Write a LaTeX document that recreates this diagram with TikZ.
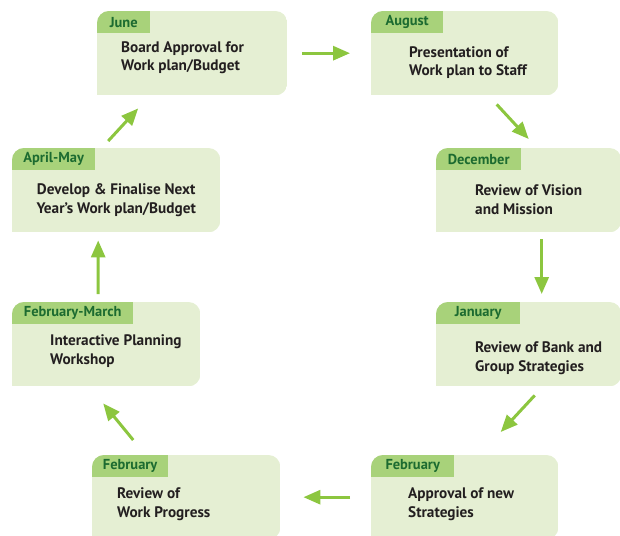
\documentclass[tikz,border=0pt]{standalone}
\usepackage{fontspec}
\setmainfont{PT Sans}
\usetikzlibrary{arrows.meta}
\definecolor{stagefill}{HTML}{E5EFD3}
\definecolor{tabfill}{HTML}{A8D27A}
\definecolor{monthgreen}{HTML}{1C6B30}
\definecolor{arrowgreen}{HTML}{8CC63F}
\definecolor{bodytext}{HTML}{231F20}

\tikzset{
  stage/.style={minimum width=#1,minimum height=84bp,inner sep=0pt,anchor=north west},
  monthtab/.style={fill=tabfill,text=monthgreen,anchor=north west,minimum height=22bp,
    inner sep=0pt,font=\fontsize{14.5}{16}\selectfont\bfseries},
  stagetext/.style={text=bodytext,anchor=base west,align=left,inner sep=0pt,
    font=\fontsize{15.3}{19}\selectfont\bfseries},
  flow/.style={arrowgreen,line width=3bp,-{Triangle[length=17bp,width=14bp]}}
}

\begin{document}
\begin{tikzpicture}[x=1bp,y=-1bp]
  \useasboundingbox (0,0) rectangle (620,536);

  % stage boxes, top-left corners
  \node[stage=190bp] (june)     at (97,11)   {};
  \node[stage=187bp] (august)   at (371,11)  {};
  \node[stage=208bp] (aprmay)   at (12,148)  {};
  \node[stage=185bp] (december) at (436,148) {};
  \node[stage=188bp] (febmar)   at (12,302)  {};
  \node[stage=185bp] (january)  at (436,302) {};
  \node[stage=188bp] (febleft)  at (92,455)  {};
  \node[stage=187bp] (febright) at (371,455) {};

  % box backgrounds and month tabs
  \foreach \n/\tw/\month in {
    june/53/June,
    august/72/August,
    aprmay/83/April-May,
    december/85/December,
    febmar/121/February-March,
    january/84/January,
    febleft/76/February,
    febright/83/February
  } {
    \begin{scope}
      \clip[rounded corners=12bp] (\n.south west) rectangle (\n.north east);
      \fill[stagefill] (\n.south west) rectangle (\n.north east);
      \node[monthtab,minimum width=\tw bp] (\n-tab) at (\n.north west) {\month};
    \end{scope}
    \fill[stagefill] (\n.south west) rectangle ++(12bp,12bp);
  }

  % stage texts, placed by the baseline of their last line
  \node[stagetext] (june-text) at ([xshift=24bp,yshift=-60bp]june.north west)
    {Board Approval for\\Work plan/Budget};
  \node[stagetext] (august-text) at ([xshift=38bp,yshift=-65bp]august.north west)
    {Presentation of\\Work plan to Staff};
  \node[stagetext,anchor=base,align=center] (aprmay-text) at ([yshift=-65bp]aprmay.north)
    {Develop \& Finalise Next\\Year’s Work plan/Budget};
  \node[stagetext] (december-text) at ([xshift=39bp,yshift=-66bp]december.north west)
    {Review of Vision\\and Mission};
  \node[stagetext] (febmar-text) at ([xshift=38bp,yshift=-62bp]febmar.north west)
    {Interactive Planning\\Workshop};
  \node[stagetext] (january-text) at ([xshift=39bp,yshift=-69bp]january.north west)
    {Review of Bank and\\Group Strategies};
  \node[stagetext] (febleft-text) at ([xshift=25bp,yshift=-62bp]febleft.north west)
    {Review of\\Work Progress};
  \node[stagetext] (febright-text) at ([xshift=37bp,yshift=-62bp]febright.north west)
    {Approval of new\\Strategies};

  % cycle arrows
  \draw[flow,shorten <=15bp,shorten >=21bp] (june.east) -- (august.west);
  \draw[flow] ([xshift=32bp,yshift=-9bp]august.south) -- ([yshift=9bp]december.north);
  \draw[flow] ([xshift=13bp,yshift=-7bp]december.south) -- ([xshift=13bp,yshift=8bp]january.north);
  \draw[flow] ([xshift=6bp,yshift=-9bp]january.south) -- ([xshift=36bp,yshift=23bp]febright.north);
  \draw[flow,shorten <=21bp,shorten >=23bp] (febright.west) -- (febleft.east);
  \draw[flow] ([xshift=-53bp,yshift=15bp]febleft.north) -- ([xshift=-3bp,yshift=-17bp]febmar.south);
  \draw[flow] ([xshift=-8bp,yshift=8bp]febmar.north) -- ([xshift=-18bp,yshift=-8bp]aprmay.south);
  \draw[flow] ([xshift=-8bp,yshift=7bp]aprmay.north) -- ([xshift=-54bp,yshift=-13bp]june.south);
\end{tikzpicture}
\end{document}
